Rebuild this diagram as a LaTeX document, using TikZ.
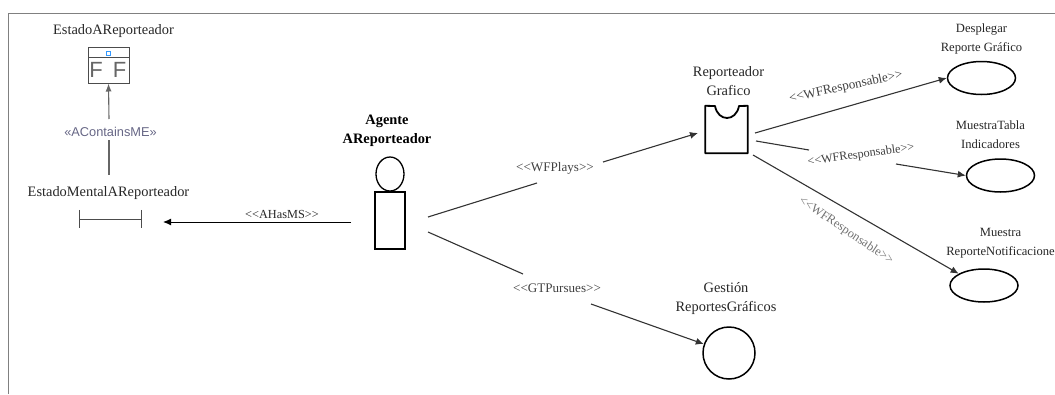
\documentclass[tikz,border=0pt]{standalone}
\usepackage{fontspec}
\setmainfont{Liberation Serif}
\setsansfont{Liberation Sans}
\usetikzlibrary{shapes,arrows,arrows.meta,positioning}
\tikzset{
  caption/.style={align=center, inner sep=0pt, font=\fontsize{14.4}{19}\selectfont, text=black!85},
  smallcaption/.style={caption, font=\fontsize{12.6}{19}\selectfont},
  stereo/.style={inner sep=1pt, font=\fontsize{13.1}{15}\selectfont, text=black!75},
  taskshape/.style={draw, ellipse, line width=1.5pt, minimum width=68pt, minimum height=33pt, inner sep=0pt},
  link/.style={line width=1.1pt, black!80},
  linkarrow/.style={link, -{Latex[length=8pt,width=7pt]}}
}
\begin{document}
\begin{tikzpicture}[x=1pt,y=-1pt]
\useasboundingbox (0,0) rectangle (1055,394);
\coordinate (frametl) at (8.5,13.5);
\coordinate (frametr) at (1055,13.5);
\coordinate (framebl) at (8.5,394);
\draw [line width=1.3pt, black!50](framebl)--(frametl)--(frametr);

% left part
\node (stateicon)[draw, rectangle, black!70, line width=1pt, minimum width=41pt, minimum height=36pt, inner sep=0pt] at (108.5,65) {};
\node (statetitle)[caption, above of=stateicon, node distance=34pt, xshift=5pt] {EstadoAReporteador};
\coordinate (statebarl) at (88,57);
\coordinate (statebarr) at (129,57);
\draw [black!70, line width=1pt](statebarl)--(statebarr);
\node (statedot)[draw=blue!50!cyan!80, rectangle, line width=1pt, minimum size=4pt, inner sep=0pt, below of=stateicon, node distance=-12pt] {};
\node (stateleft)[inner sep=0pt, text=black!60, font=\sffamily\fontsize{22}{22}\selectfont, left of=stateicon, node distance=12.5pt, yshift=-5pt] {F};
\node (stateright)[inner sep=0pt, text=black!60, font=\sffamily\fontsize{22}{22}\selectfont, right of=stateicon, node distance=11pt, yshift=-5pt] {F};

\node (mentalicon)[rectangle, minimum width=61pt, minimum height=18pt, inner sep=0pt] at (110.5,219) {};
\node (mentaltitle)[caption, above of=mentalicon, node distance=26pt, xshift=-2pt] {EstadoMentalAReporteador};
\draw [black!70, line width=1pt](mentalicon.north west)--(mentalicon.south west);
\draw [black!70, line width=1pt](mentalicon.north east)--(mentalicon.south east);
\draw [black!70, line width=1pt](mentalicon.west)--(mentalicon.east);

\node (contains)[inner sep=1pt, text=blue!20!black!60, font=\sffamily\fontsize{12.8}{14}\selectfont, above of=mentalicon, node distance=87pt] {«AContainsME»};
\coordinate (containsup) at (109,119);
\coordinate (containsdown) at (109,140);
\coordinate (containsend) at (109,175);
\draw [-{Latex[length=8pt,width=6pt]}, black!60, line width=1.1pt](containsup)--(stateicon.south);
\draw [black!60, line width=1.1pt](containsdown)--(containsend);

% agent
\node (agentbody)[draw, rectangle, line width=1.3pt, minimum width=30pt, minimum height=57pt, inner sep=0pt] at (390,220.5) {};
\node (agenthead)[draw, ellipse, line width=1.3pt, minimum width=28pt, minimum height=34pt, inner sep=0pt, above of=agentbody, node distance=46.5pt] {};
\node (agenttitle)[caption, font=\bfseries\fontsize{14.4}{19}\selectfont, text=black, above of=agenthead, node distance=43.5pt, xshift=-3pt] {Agente\\AReporteador};

\coordinate (agentleft) at (351,222);
\coordinate (mentalin) at (163,222);
\node (hasms)[stereo, font=\fontsize{12.3}{15}\selectfont, text=black!85] at (282,214.5) {<{}<AHasMS>{}>};
\draw [linkarrow, line width=1pt, black](agentleft)--(mentalin);

% role and goal
\node (role)[rectangle, minimum width=42pt, minimum height=47pt, inner sep=0pt] at (726.5,129.5) {};
\draw [line width=1.8pt, line join=round](role.north west)--(715,106) .. controls (718,122) and (736,122) .. (739,106) --(role.north east)--(role.south east)--(role.south west)--cycle;
\node (roletitle)[caption, above of=role, node distance=48pt, xshift=2pt] {Reporteador\\Grafico};

\node (goal)[draw, circle, line width=1.5pt, minimum size=52pt, inner sep=0pt] at (729,353) {};
\node (goaltitle)[caption, above of=goal, node distance=54pt, xshift=-3pt] {Gestión\\ReportesGráficos};

\node (plays)[stereo] at (555,168) {<{}<WFPlays>{}>};
\node (pursues)[stereo] at (557,288) {<{}<GTPursues>{}>};
\coordinate (agentplays) at (428,217);
\coordinate (playsin) at (537,183);
\coordinate (playsout) at (603,162);
\coordinate (rolein) at (698,133);
\coordinate (agentpursues) at (428,232);
\coordinate (pursuesin) at (523,274);
\coordinate (pursuesout) at (591,304);
\draw [link](agentplays)--(playsin);
\draw [linkarrow](playsout)--(rolein);
\draw [link](agentpursues)--(pursuesin);
\draw [linkarrow](pursuesout)--(goal);

% tasks
\node (taskone)[taskshape] at (981.5,78) {};
\node (taskonetitle)[smallcaption, above of=taskone, node distance=39pt] {Desplegar\\Reporte Gráfico};
\node (tasktwo)[taskshape] at (1000.5,175.5) {};
\node (tasktwotitle)[smallcaption, above of=tasktwo, node distance=41pt, xshift=-10pt] {MuestraTabla\\Indicadores};
\node (taskthree)[taskshape] at (984,285.5) {};
\node (taskthreetitle)[smallcaption, above of=taskthree, node distance=42pt, xshift=16.5pt] {Muestra\\ReporteNotificacione};

\node (respone)[stereo, rotate=12] at (846,87) {<{}<WFResponsable>{}>};
\node (resptwo)[stereo, font=\fontsize{12.2}{15}\selectfont, rotate=8] at (861,155) {<{}<WFResponsable>{}>};
\node (respthree)[stereo, font=\fontsize{12.6}{15}\selectfont, text=black!55, rotate=-34] at (846,231) {<{}<WFResponsable>{}>};
\coordinate (roleone) at (755,133);
\coordinate (roletwo) at (756,141);
\coordinate (twoin) at (809,150);
\coordinate (twoout) at (896,164);
\coordinate (rolethree) at (753,155);
\draw [linkarrow](roleone)--(taskone.west);
\draw [link](roletwo)--(twoin);
\draw [linkarrow](twoout)--(tasktwo.west);
\draw [linkarrow](rolethree)--(taskthree.155);
\end{tikzpicture}
\end{document}
